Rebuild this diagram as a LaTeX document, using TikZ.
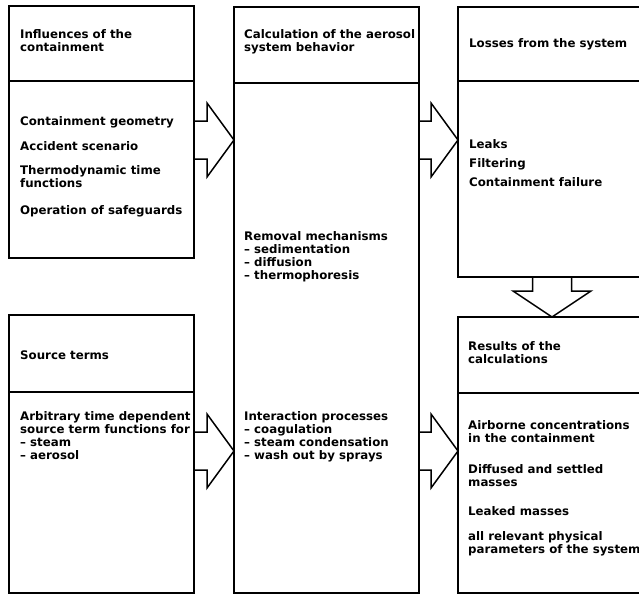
\documentclass[tikz,border=0pt]{standalone}
\usepackage{fontspec}
\setmainfont{DejaVu Sans}
\usetikzlibrary{calc}

\tikzset{
  box/.style={line width=1.8pt},
  fat/.style={line width=1.5pt, line join=miter},
  txt/.style={anchor=north west, inner sep=0pt, align=left,
    font=\bfseries\fontsize{11.8}{13}\selectfont},
}

% wide arrow pointing right: #1 start on the box edge, #2 tip
\newcommand{\rblock}[2]{%
  \draw[fat] ($(#1)+(0,-19)$) -- ($(#2)+(-27,-19)$) -- ($(#2)+(-27,-37)$)
    -- (#2) -- ($(#2)+(-27,37)$) -- ($(#2)+(-27,19)$) -- ($(#1)+(0,19)$);}
% wide arrow pointing down
\newcommand{\dblock}[2]{%
  \draw[fat] ($(#1)+(-19.5,0)$) -- ($(#2)+(-19.5,-26)$) -- ($(#2)+(-39,-26)$)
    -- (#2) -- ($(#2)+(39,-26)$) -- ($(#2)+(19.5,-26)$) -- ($(#1)+(19.5,0)$);}

\begin{document}
\begin{tikzpicture}[x=1pt,y=-1pt]
  \clip (0,0) rectangle (639,594);

  % corners of the boxes
  \coordinate (I1) at (9,6);     \coordinate (I2) at (194,258);
  \coordinate (S1) at (9,315);   \coordinate (S2) at (194,593);
  \coordinate (C1) at (234,7);   \coordinate (C2) at (419,593);
  \coordinate (L1) at (458,7);   \coordinate (L2) at (652,277);
  \coordinate (R1) at (458,317); \coordinate (R2) at (652,593);

  \draw[box] (I1) rectangle (I2);
  \draw[box] (S1) rectangle (S2);
  \draw[box] (C1) rectangle (C2);
  \draw[box] (L1) rectangle (L2);
  \draw[box] (R1) rectangle (R2);

  % header lines
  \draw[box] (I1 |- 0,81) -- (I2 |- 0,81);
  \draw[box] (S1 |- 0,392) -- (S2 |- 0,392);
  \draw[box] (C1 |- 0,83) -- (C2 |- 0,83);
  \draw[box] (L1 |- 0,81) -- (L2 |- 0,81);
  \draw[box] (R1 |- 0,393) -- (R2 |- 0,393);

  % arrows
  \coordinate (a1) at (194,140); \coordinate (t1) at (234,140);
  \coordinate (a2) at (194,451); \coordinate (t2) at (234,451);
  \coordinate (a3) at (419,140); \coordinate (t3) at (458,140);
  \coordinate (a4) at (419,451); \coordinate (t4) at (458,451);
  \coordinate (a5) at (552,277); \coordinate (t5) at (552,317);
  \rblock{a1}{t1}
  \rblock{a2}{t2}
  \rblock{a3}{t3}
  \rblock{a4}{t4}
  \dblock{a5}{t5}

  % texts
  \node[txt] (infl) at (20,29) {Influences of the\\containment};
  \node[txt] (geom) at (20,116) {Containment geometry};
  \node[txt] (scen) at (20,141) {Accident scenario};
  \node[txt] (thermo) at (20,165) {Thermodynamic time\\functions};
  \node[txt] (safe) at (20,205) {Operation of safeguards};

  \node[txt] (src) at (20,351) {Source terms};
  \node[txt] (srcfn) at (20,411) {Arbitrary time dependent\\source term functions for\\-- steam\\-- aerosol};

  \node[txt] (calc) at (244,29) {Calculation of the aerosol\\system behavior};
  \node[txt] (removal) at (244,231) {Removal mechanisms\\-- sedimentation\\-- diffusion\\-- thermophoresis};
  \node[txt] (inter) at (244,411) {Interaction processes\\-- coagulation\\-- steam condensation\\-- wash out by sprays};

  \node[txt] (loss) at (469,38) {Losses from the system};
  \node[txt] (leaks) at (469,139) {Leaks};
  \node[txt] (filt) at (469,158) {Filtering};
  \node[txt] (fail) at (469,177) {Containment failure};

  \node[txt] (res) at (468,341) {Results of the\\calculations};
  \node[txt] (airb) at (468,420) {Airborne concentrations\\in the containment};
  \node[txt] (diff) at (468,464) {Diffused and settled\\masses};
  \node[txt] (leaked) at (468,506) {Leaked masses};
  \node[txt] (param) at (468,531) {all relevant physical\\parameters of the system};
\end{tikzpicture}
\end{document}
